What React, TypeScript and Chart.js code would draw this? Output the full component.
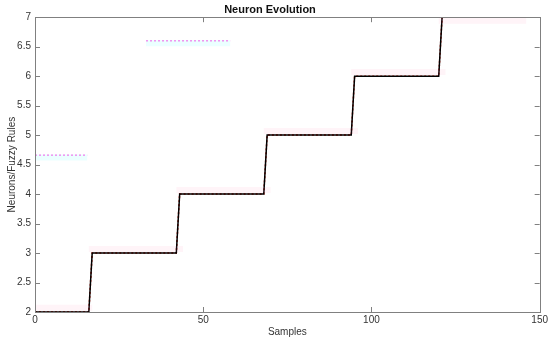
import React, { useEffect, useRef } from "react";
import { Chart, registerables } from "chart.js";

Chart.register(...registerables);

// Step series (sample index, neurons)
const stepX = [0, 16, 17, 42, 43, 68, 69, 94, 95, 120, 121, 146];
const stepY = [2, 2, 3, 3, 4, 4, 5, 5, 6, 6, 7, 7];

// faint pink bands near each level
const bandX = [0, 17, null, 16, 44, null, 42, 70, null, 68, 96, null, 94, 122, null, 120, 146];
const bandY = [2.07, 2.07, null, 3.07, 3.07, null, 4.07, 4.07, null, 5.07, 5.07, null, 6.07, 6.07, null, 6.94, 6.94];

// stray dotted segments
const seg1X = [0, 15.5];
const seg1Y = [4.66, 4.66];
const seg2X = [33, 58];
const seg2Y = [6.6, 6.6];

const xTicks = [0, 50, 100, 150];

function pts(xs: (number | null)[], ys: (number | null)[]) {
  return xs.map((x, i) => ({ x: x as number, y: ys[i] as number }));
}

const boxTicks = {
  id: "boxTicks",
  afterDraw(chart: any) {
    const { ctx, chartArea: a } = chart;
    const xs = chart.scales.x;
    const ys = chart.scales.y;
    ctx.save();
    ctx.strokeStyle = "#808080";
    ctx.lineWidth = 1;
    ctx.strokeRect(Math.round(a.left) + 0.5, Math.round(a.top) + 0.5, Math.round(a.right - a.left), Math.round(a.bottom - a.top));
    const L = 5;
    ctx.beginPath();
    xs.ticks.forEach((t: any) => {
      const px = Math.round(xs.getPixelForValue(t.value)) + 0.5;
      ctx.moveTo(px, a.bottom);
      ctx.lineTo(px, a.bottom - L);
      ctx.moveTo(px, a.top);
      ctx.lineTo(px, a.top + L);
    });
    ys.ticks.forEach((t: any) => {
      const py = Math.round(ys.getPixelForValue(t.value)) + 0.5;
      ctx.moveTo(a.left, py);
      ctx.lineTo(a.left + L, py);
      ctx.moveTo(a.right, py);
      ctx.lineTo(a.right - L, py);
    });
    ctx.stroke();
    ctx.restore();
  },
};

export default function App() {
  const ref = useRef<HTMLCanvasElement>(null);
  useEffect(() => {
    document.body.style.margin = "0";
    const font = "'Liberation Sans', Arial, sans-serif";
    const chart = new Chart(ref.current!, {
      type: "line",
      data: {
        datasets: [
          {
            data: pts(bandX, bandY),
            borderColor: "rgba(255,120,170,0.08)",
            borderWidth: 6,
            pointRadius: 0,
            spanGaps: false,
          },
          {
            data: pts(seg1X, seg1Y.map((v) => v - 0.04)),
            borderColor: "rgba(120,255,255,0.15)",
            borderWidth: 6,
            pointRadius: 0,
          },
          {
            data: pts(seg2X, seg2Y.map((v) => v - 0.04)),
            borderColor: "rgba(120,255,255,0.15)",
            borderWidth: 6,
            pointRadius: 0,
          },
          {
            data: pts(seg1X, seg1Y),
            borderColor: "rgba(255,80,230,0.7)",
            borderWidth: 1.5,
            borderDash: [2, 2],
            pointRadius: 0,
          },
          {
            data: pts(seg2X, seg2Y),
            borderColor: "rgba(255,80,230,0.7)",
            borderWidth: 1.5,
            borderDash: [2, 2],
            pointRadius: 0,
          },
          {
            data: pts(stepX, stepY),
            borderColor: "#000000",
            borderWidth: 1.5,
            pointRadius: 0,
          },
          {
            data: pts(stepX, stepY),
            borderColor: "#e01808",
            borderWidth: 1.5,
            borderDash: [2, 2],
            pointRadius: 0,
          },
        ],
      },
      options: {
        responsive: false,
        animation: false,
        layout: { padding: { left: 0, right: 10, top: 0, bottom: 0 } },
        plugins: {
          legend: { display: false },
          tooltip: { enabled: false },
          title: {
            display: true,
            text: "Neuron Evolution",
            color: "#111",
            font: { family: font, size: 11, weight: "bold" },
            padding: { top: 3, bottom: 1 },
          },
        },
        scales: {
          x: {
            type: "linear",
            min: 0,
            max: 150,
            afterBuildTicks: (s: any) => {
              s.ticks = xTicks.map((v) => ({ value: v }));
            },
            afterFit: (s: any) => {
              s.height = 31;
            },
            grid: { display: false, drawTicks: false, tickLength: 0 },
            border: { display: false },
            ticks: {
              padding: 2,
              color: "#333",
              font: { family: font, size: 10 },
              maxRotation: 0,
            },
            title: {
              display: true,
              text: "Samples",
              color: "#333",
              font: { family: font, size: 10 },
              padding: { top: 0, bottom: 5 },
            },
          },
          y: {
            type: "linear",
            min: 2,
            max: 7,
            afterFit: (s: any) => {
              s.width = 35;
            },
            grid: { display: false, drawTicks: false, tickLength: 0 },
            border: { display: false },
            ticks: {
              stepSize: 0.5,
              padding: 4,
              color: "#333",
              font: { family: font, size: 10 },
              callback: (v: any) => String(Number(v)),
            },
            title: {
              display: true,
              text: "Neurons/Fuzzy Rules",
              color: "#333",
              font: { family: font, size: 10 },
              padding: { top: 6, bottom: 0 },
            },
          },
        },
      },
      plugins: [boxTicks],
    });
    return () => chart.destroy();
  }, []);
  return <canvas ref={ref} width={550} height={343} style={{ display: "block" }} />;
}
